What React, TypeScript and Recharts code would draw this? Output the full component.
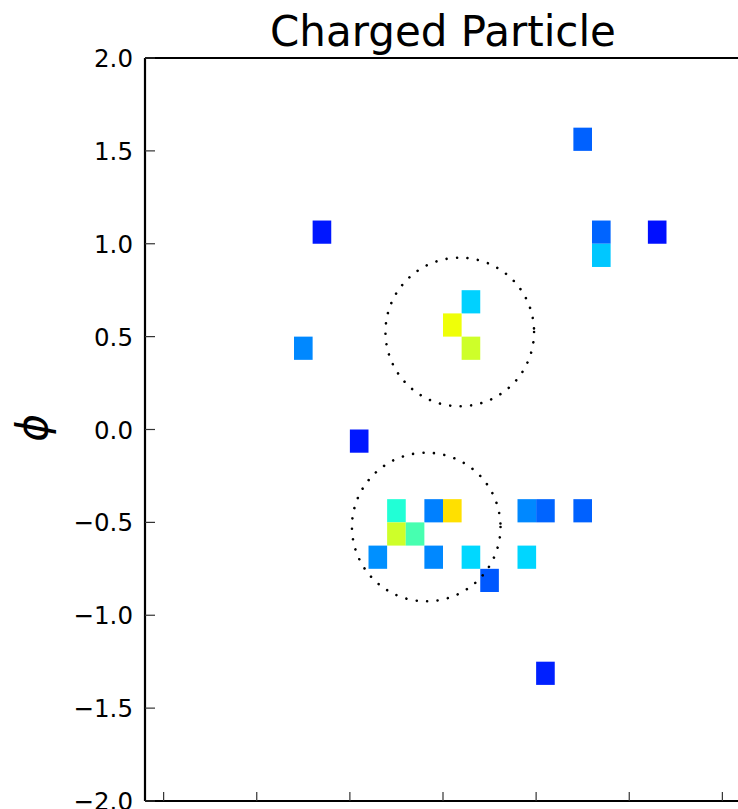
import React from "react";
import { ScatterChart, Scatter, XAxis, YAxis, ReferenceArea } from "recharts";

// calorimeter cells: lower edge in eta / phi, and deposited energy (0..1, jet colormap)
const cellEta = [0.7, -0.7, 0.8, 0.8, 1.1, 0.1, 0.0, 0.1, -0.8, -0.5, -0.3, -0.1, 0.0, 0.4, 0.5, 0.7, -0.3, -0.2, -0.4, -0.1, 0.1, 0.4, 0.2, 0.5];
const cellPhi = [1.5, 1.0, 1.0, 0.875, 1.0, 0.625, 0.5, 0.375, 0.375, -0.125, -0.5, -0.5, -0.5, -0.5, -0.5, -0.5, -0.625, -0.625, -0.75, -0.75, -0.75, -0.75, -0.875, -1.375];
const cellEnergy = [0.22, 0.148, 0.223, 0.32, 0.14, 0.33, 0.64, 0.6, 0.258, 0.148, 0.39, 0.25, 0.673, 0.258, 0.223, 0.22, 0.6, 0.436, 0.266, 0.258, 0.337, 0.335, 0.211, 0.156];

// jet cones drawn as dotted circles
const jetEta = [0.09, -0.09];
const jetPhi = [0.525, -0.525];
const jetRadius = 0.4;

const xTicks = [-1.5, -1.0, -0.5, 0, 0.5, 1.0, 1.5];
const yTicks = [-2.0, -1.5, -1.0, -0.5, 0, 0.5, 1.0, 1.5, 2.0];

const ETA_BIN = 0.1;
const PHI_BIN = 0.125;

const W = 760;
const H = 841;
const PLOT_LEFT = 145;
const PLOT_TOP = 58;
const PLOT_RIGHT = 741;
const PLOT_BOTTOM = 801;
const PX_PER_UNIT = (PLOT_BOTTOM - PLOT_TOP) / 4;

const FONT = "'DejaVu Sans', sans-serif";
const SPINE = { stroke: "#000", strokeWidth: 2.2 };

const jet = (v: number) => {
  const lerp = (pts: number[][]) => {
    for (let i = 1; i < pts.length; i++) {
      if (v <= pts[i][0]) {
        const [x0, y0] = pts[i - 1];
        const [x1, y1] = pts[i];
        return y0 + ((v - x0) / (x1 - x0)) * (y1 - y0);
      }
    }
    return pts[pts.length - 1][1];
  };
  const r = lerp([[0, 0], [0.35, 0], [0.66, 1], [0.89, 1], [1, 0.5]]);
  const g = lerp([[0, 0], [0.125, 0], [0.375, 1], [0.64, 1], [0.91, 0], [1, 0]]);
  const b = lerp([[0, 0.5], [0.11, 1], [0.34, 1], [0.65, 0], [1, 0]]);
  const c = (x: number) => Math.round(Math.max(0, Math.min(1, x)) * 255);
  return `rgb(${c(r)},${c(g)},${c(b)})`;
};

const fmt = (v: number) => (v < 0 ? "\u2212" + Math.abs(v).toFixed(1) : v.toFixed(1));

const LeftTick = (props: any) => {
  const { y, payload } = props;
  return (
    <g>
      <line x1={PLOT_LEFT} x2={PLOT_LEFT + 10} y1={y} y2={y} stroke="#333" strokeWidth={1.2} />
      <text x={PLOT_LEFT - 12} y={y} dy={9} textAnchor="end" fontSize={24.5} fontFamily={FONT} fill="#000">
        {fmt(payload.value)}
      </text>
    </g>
  );
};

const RightTick = (props: any) => (
  <line x1={PLOT_RIGHT - 10} x2={PLOT_RIGHT} y1={props.y} y2={props.y} stroke="#333" strokeWidth={1.2} />
);

const TopTick = (props: any) => (
  <line x1={props.x} x2={props.x} y1={PLOT_TOP} y2={PLOT_TOP + 9} stroke="#333" strokeWidth={1.2} />
);

const BottomTick = (props: any) => (
  <line x1={props.x} x2={props.x} y1={PLOT_BOTTOM - 9} y2={PLOT_BOTTOM} stroke="#333" strokeWidth={1.2} />
);

const JetCircle = (props: any) => (
  <circle
    cx={props.cx}
    cy={props.cy}
    r={jetRadius * PX_PER_UNIT}
    fill="none"
    stroke="#000"
    strokeWidth={2.6}
    strokeDasharray="0.01 10.5"
    strokeLinecap="round"
  />
);

export default function App() {
  const cells = cellEta.map((eta, i) => ({ eta, phi: cellPhi[i], e: cellEnergy[i] }));
  const jets = jetEta.map((eta, i) => ({ eta, phi: jetPhi[i] }));

  return (
    <div style={{ position: "fixed", left: 0, top: 0, width: 738, height: 809, overflow: "hidden", background: "#fff" }}>
      <ScatterChart
        width={W}
        height={H}
        margin={{ top: PLOT_TOP - 1, right: W - PLOT_RIGHT, bottom: H - PLOT_BOTTOM - 30, left: 0 }}
        style={{ fontFamily: FONT }}
      >
        <XAxis
          type="number"
          dataKey="eta"
          domain={[-1.6, 1.6]}
          ticks={xTicks}
          height={30}
          tickLine={false}
          tickSize={0}
          tick={<BottomTick />}
          axisLine={SPINE}
        />
        <XAxis
          xAxisId="top"
          orientation="top"
          type="number"
          domain={[-1.6, 1.6]}
          ticks={xTicks}
          height={1}
          tickLine={false}
          tickSize={0}
          tick={<TopTick />}
          axisLine={SPINE}
        />
        <YAxis
          type="number"
          dataKey="phi"
          domain={[-2, 2]}
          ticks={yTicks}
          width={PLOT_LEFT}
          tickLine={false}
          tickSize={0}
          tick={<LeftTick />}
          axisLine={SPINE}
        />
        <YAxis
          yAxisId="right"
          orientation="right"
          type="number"
          domain={[-2, 2]}
          ticks={yTicks}
          width={0}
          tickLine={false}
          tickSize={0}
          tick={<RightTick />}
          axisLine={SPINE}
        />
        {cells.map((c, i) => (
          <ReferenceArea
            key={`cell-${i}`}
            x1={c.eta}
            x2={c.eta + ETA_BIN}
            y1={c.phi}
            y2={c.phi + PHI_BIN}
            fill={jet(c.e)}
            fillOpacity={1}
            stroke="none"
          />
        ))}
        <Scatter data={jets} shape={<JetCircle />} isAnimationActive={false} />
        <text x={(PLOT_LEFT + PLOT_RIGHT) / 2} y={46} textAnchor="middle" fontSize={42} fontFamily={FONT} fill="#000">
          Charged Particle
        </text>
        <text
          x={0}
          y={0}
          transform="translate(47,428) rotate(-90)"
          textAnchor="middle"
          fontSize={42}
          fontStyle="italic"
          fontFamily={FONT}
          fill="#000"
        >
          ϕ
        </text>
      </ScatterChart>
    </div>
  );
}
